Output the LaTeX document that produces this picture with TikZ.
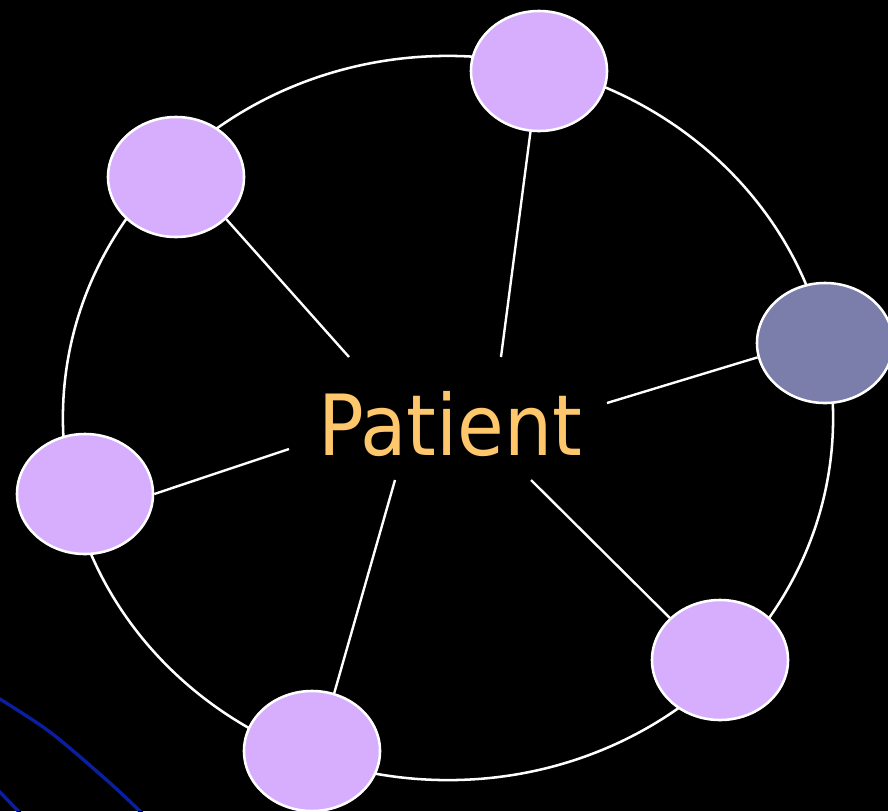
\documentclass[tikz,border=0pt]{standalone}
\usepackage{fontspec}
\usetikzlibrary{shapes.geometric}
\newfontfamily\labelfont{DejaVu Sans Condensed}
\definecolor{lilac}{HTML}{D7AEFE}
\definecolor{slate}{HTML}{7B7DAA}
\definecolor{apricot}{HTML}{FFC76C}
\definecolor{deepblue}{HTML}{0A1EA0}

\begin{document}
\begin{tikzpicture}[x=0.025cm, y=-0.025cm,
  bubble/.style={ellipse, draw=white, line width=1.8pt, fill=lilac,
    minimum width=3.4cm, minimum height=3.0cm, inner sep=0pt},
  spoke/.style={white, line width=1.7pt}]

% Background
\fill[black] (0,0) rectangle (888,811);
\useasboundingbox (0,0) rectangle (888,811);
\clip (0,0) rectangle (888,811);

% Blue strokes, lower left corner
\draw[deepblue, line width=2.4pt] plot[smooth, tension=0.5] coordinates {
  (-5,696) (50,732) (110,783) (145,816)};
\draw[deepblue, line width=2.4pt] (-5,787) -- (22,815);

% Outer ring
\draw[white, line width=1.8pt] (448,418) ellipse [x radius=9.625cm, y radius=9.05cm];

% Centre label
\node[font=\labelfont\fontsize{60}{60}\selectfont, text=apricot, anchor=base]
  (patient) at (450,455) {Patient};

% Inner ends of the spokes
\coordinate (sTop) at (501,357);
\coordinate (sUpLeft) at (349,357);
\coordinate (sRight) at (607,403);
\coordinate (sLeft) at (289,449);
\coordinate (sBottom) at (395,480);
\coordinate (sDownRight) at (531,480);

% Satellites
\node[bubble] (top) at (539,71) {};
\node[bubble] (upleft) at (176,177) {};
\node[bubble, fill=slate] (right) at (825,343) {};
\node[bubble] (left) at (85,494) {};
\node[bubble] (bottom) at (312,751) {};
\node[bubble] (downright) at (720,660) {};

% Spokes
\draw[spoke] (sTop) -- (top.-98);
\draw[spoke] (sUpLeft) -- (upleft.-40);
\draw[spoke] (sRight) -- (right.192);
\draw[spoke] (sLeft) -- (left.east);
\draw[spoke] (sBottom) -- (bottom.69);
\draw[spoke] (sDownRight) -- (downright.140);

\end{tikzpicture}
\end{document}
